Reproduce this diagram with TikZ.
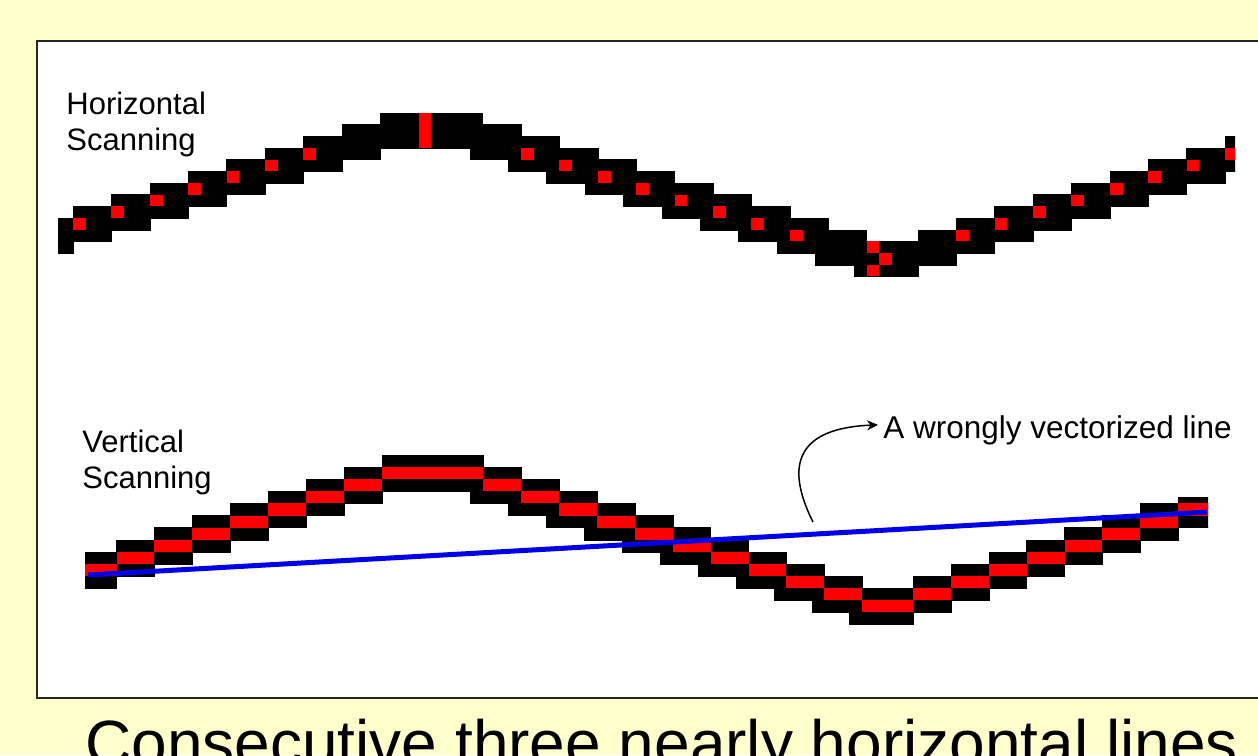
\documentclass[tikz,border=0pt]{standalone}
\usepackage{fontspec}
\setmainfont{Liberation Sans}
\usetikzlibrary{arrows.meta}
\definecolor{bgyellow}{HTML}{FFFFCC}
\definecolor{pixred}{HTML}{FF0000}
\definecolor{vecblue}{HTML}{0000E6}
\tikzset{
  lab/.style={inner sep=0pt, align=left, font=\fontsize{15.5pt}{18pt}\selectfont},
  pix/.style={fill=black, draw=black, line width=0.2pt},
  dot/.style={fill=pixred},
  frameline/.style={draw=black!85, line width=1pt},
}
\begin{document}
\begin{tikzpicture}[x=0.5pt, y=-0.5pt]
\useasboundingbox (0,0) rectangle (1258,755);
\fill[bgyellow] (0,0) rectangle (1258,755);
\fill[white] (37,41) rectangle (1262,698);
\draw[frameline] (1262,41) -- (37,41) -- (37,698) -- (1262,698);

% ---------- horizontal scanning bitmap ----------
\begin{scope}
\clip (58,100) rectangle (1235,290);
\begin{scope}[shift={(380.2,113)}, x=6.4pt, y=-5.835pt]
  \foreach \k in {1,...,9} \fill[pix] (-3*\k,\k) rectangle (-3*\k+3,\k+3);
  \fill[pix] (0,0) rectangle (8,3);
  \foreach \j in {1,...,10} \fill[pix] (3*\j+4,\j) rectangle (3*\j+8,\j+3);
  \fill[pix] (37,11) rectangle (42,14);
  \foreach \m in {0,...,8} \fill[pix] (42+3*\m,10-\m) rectangle (45+3*\m,13-\m);
  \foreach \k in {2,...,9} \fill[dot] (-3*\k,\k+1) rectangle (-3*\k+1,\k+2);
  \fill[dot] (3,0) rectangle (4,3);
  \foreach \j in {2,...,9} \fill[dot] (3*\j+5,\j+1) rectangle (3*\j+6,\j+2);
  \fill[dot] (38,11) rectangle (39,12);
  \fill[dot] (38,13) rectangle (39,14);
  \fill[dot] (39,12) rectangle (40,13);
  \foreach \m in {1,...,8} \fill[dot] (42+3*\m,11-\m) rectangle (43+3*\m,12-\m);
\end{scope}
\end{scope}

% ---------- vertical scanning bitmap ----------
\begin{scope}
\clip (85,440) -- (1172,440) -- (1172,497) -- (1208,497) -- (1208,640) -- (85,640) -- cycle;
\begin{scope}[shift={(382,455)}, x=6.32pt, y=-6.05pt]
  \foreach \k in {1,...,8} \fill[pix] (-3*\k,\k) rectangle (-3*\k+3,\k+3);
  \fill[pix] (0,0) rectangle (8,3);
  \foreach \j in {1,...,10} \fill[pix] (3*\j+4,\j) rectangle (3*\j+8,\j+3);
  \fill[pix] (37,11) rectangle (42,14);
  \foreach \m in {0,...,7} \fill[pix] (42+3*\m,10-\m) rectangle (45+3*\m,13-\m);
  \foreach \k in {1,...,8} \fill[dot] (-3*\k,\k+1) rectangle (-3*\k+3,\k+2);
  \fill[dot] (0,1) rectangle (8,2);
  \foreach \j in {1,...,10} \fill[dot] (3*\j+5,\j+1) rectangle (3*\j+8,\j+2);
  \fill[dot] (38,12) rectangle (42,13);
  \foreach \m in {0,...,7} \fill[dot] (42+3*\m,11-\m) rectangle (45+3*\m,12-\m);
\end{scope}
\end{scope}

% ---------- wrongly vectorized line ----------
\coordinate (b1) at (88,575);
\coordinate (b2) at (1207,512);
\draw[vecblue, line width=2.5pt] (b1) -- (b2);

% ---------- labels ----------
\node[lab, anchor=north west] (hs) at (66,92) {Horizontal\\Scanning};
\node[lab, anchor=north west] (vs) at (82,430) {Vertical\\Scanning};
\node[anchor=base west, inner sep=2.5pt, font=\fontsize{15.75pt}{18pt}\selectfont] (lbl) at (878,438) {A wrongly vectorized line};
\coordinate (arrstart) at (813,522);
\draw[-{Stealth[length=5.5pt,width=5pt]}, line width=0.75pt] (arrstart) .. controls (783,462) and (800,428) .. ([yshift=2.5pt]lbl.west);

\node[anchor=base west, inner sep=0pt, font=\fontsize{32pt}{38pt}\selectfont] (cap) at (85,765) {Consecutive three nearly horizontal lines};
\end{tikzpicture}
\end{document}
